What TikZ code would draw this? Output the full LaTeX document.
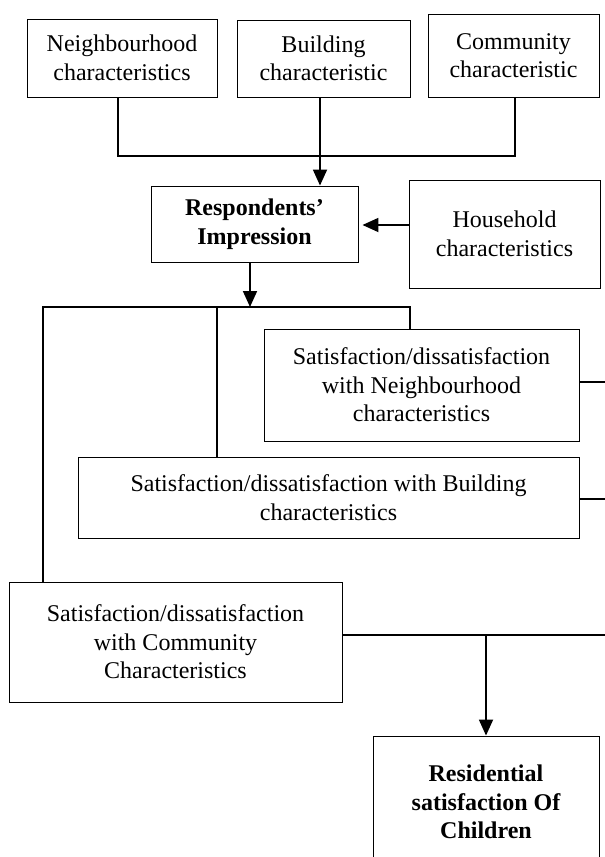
\documentclass[tikz,border=0pt]{standalone}
\usepackage{fontspec}
\setmainfont{Liberation Serif}
\usetikzlibrary{arrows.meta}
\tikzset{
  box/.style={draw=black, line width=0.9pt, inner sep=0pt, align=center,
    font=\fontsize{24}{28.5}\selectfont},
  conn/.style={draw=black, line width=1.8pt},
  arr/.style={conn, -{Triangle[length=16pt,width=14pt]}},
}
\begin{document}
\begin{tikzpicture}[x=1pt,y=-1pt]
\useasboundingbox (0,0) rectangle (605,857);
\clip (0,0) rectangle (605,857);
\fill[white] (0,0) rectangle (605,857);
% boxes
\node[box, minimum width=190pt, minimum height=78pt] (nb) at (122,58) {Neighbourhood\\characteristics};
\node[box, minimum width=173pt, minimum height=77pt] (bd) at (323.5,58.5) {Building\\characteristic};
\node[box, minimum width=171pt, minimum height=83pt] (cm) at (513.5,55.5) {Community\\characteristic};
\node[box, minimum width=207pt, minimum height=76pt] (resp) at (254.5,224) {\bfseries Respondents’\\\bfseries Impression};
\node[box, minimum width=191pt, minimum height=108pt] (hh) at (504.5,234) {Household\\characteristics};
\node[box, minimum width=315pt, minimum height=112pt] (sn) at (421.5,385) {Satisfaction/dissatisfaction\\with Neighbourhood\\characteristics};
\node[box, minimum width=501pt, minimum height=81pt] (sb) at (328.5,497.5) {Satisfaction/dissatisfaction with Building\\characteristics};
\node[box, minimum width=333pt, minimum height=120pt] (sc) at (175.5,642) {Satisfaction/dissatisfaction\\with Community\\Characteristics};
\node[box, minimum width=226pt, minimum height=132pt] (rs) at (486,802) {\bfseries Residential\\\bfseries satisfaction Of\\\bfseries Children};
% junction coordinates
\coordinate (j1) at (118,156);
\coordinate (jb) at (320,156);
\coordinate (jc) at (515,156);
\coordinate (ha) at (0,225);
\coordinate (j2) at (250,307);
\coordinate (jl) at (43,307);
\coordinate (jm) at (217,307);
\coordinate (jr) at (410,307);
\coordinate (redge) at (605,0);
\coordinate (j3) at (486,635);
% connectors
\draw[conn] (nb.south -| j1) -- (j1) -- (jc) -- (cm.south -| jc);
\draw[arr] (bd.south -| jb) -- (resp.north -| jb);
\draw[arr] (hh.west |- ha) -- ([xshift=4pt]resp.east |- ha);
\draw[arr] (resp.south -| j2) -- (j2);
\draw[conn] (sc.north -| jl) -- (jl) -- (jr) -- (sn.north -| jr);
\draw[conn] (jm) -- (sb.north -| jm);
\draw[conn] ([yshift=3pt]sn.east) -- ([yshift=3pt]sn.east -| redge);
\draw[conn] ([yshift=-1.5pt]sb.east) -- ([yshift=-1.5pt]sb.east -| redge);
\draw[conn] (sc.east |- j3) -- (j3 -| redge);
\draw[arr] (j3) -- (rs.north);
\end{tikzpicture}
\end{document}
